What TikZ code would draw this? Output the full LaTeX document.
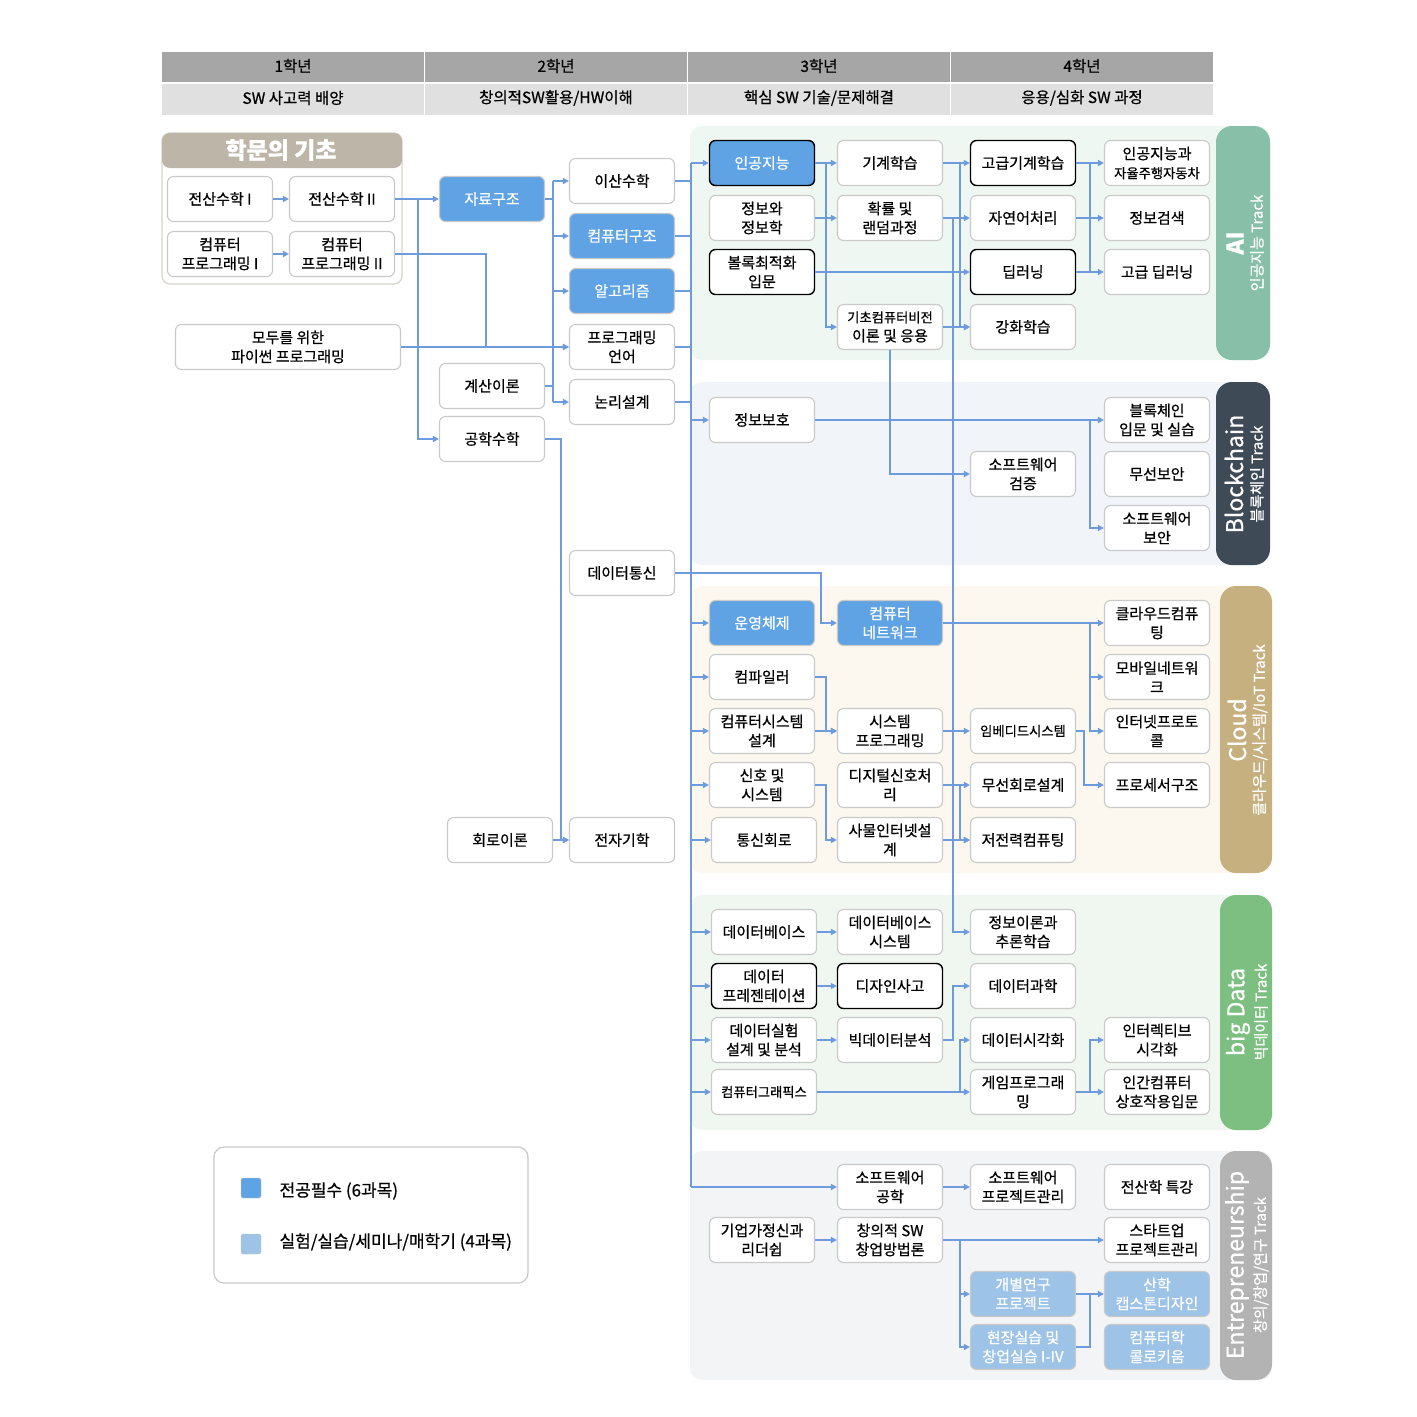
\documentclass[tikz,border=0pt]{standalone}
\usepackage{fontspec}
\setmainfont{Noto Sans CJK KR}[FakeBold=0.6]
\usetikzlibrary{arrows.meta}
\definecolor{linkblue}{HTML}{6E9BDB}
\definecolor{majorblue}{HTML}{5FA3E4}
\definecolor{labblue}{HTML}{9DC3E6}
\definecolor{boxgray}{HTML}{C9C9C9}
\definecolor{headdark}{HTML}{A6A6A6}
\definecolor{headlight}{HTML}{E0E0E0}
\definecolor{basetan}{HTML}{BDB5A7}
\definecolor{aibg}{HTML}{EFF7F3}
\definecolor{aibar}{HTML}{88BFA9}
\definecolor{bcbg}{HTML}{F1F4F8}
\definecolor{bcbar}{HTML}{3F4A57}
\definecolor{cloudbg}{HTML}{FCF8EF}
\definecolor{cloudbar}{HTML}{C7B07F}
\definecolor{bdbg}{HTML}{F0F7F1}
\definecolor{bdbar}{HTML}{7CBF80}
\definecolor{enbg}{HTML}{F3F4F5}
\definecolor{enbar}{HTML}{B3B3B3}
\newcommand{\boxw}{105pt}
\newcommand{\boxh}{45pt}

\begin{document}
\begin{tikzpicture}[x=1pt,y=-1pt,
  course/.style={draw=boxgray, line width=1.1pt, rounded corners=6pt, fill=white,
                 minimum width=\boxw, minimum height=\boxh, align=center, inner sep=1pt,
                 font=\fontsize{15}{19}\selectfont},
  major/.style={course, fill=majorblue, text=white},
  lab/.style={course, fill=labblue, text=white},
  core/.style={course, draw=black, line width=1.4pt},
  tight/.style={font=\fontsize{13.3}{18}\selectfont},
  bigtrack/.style={rotate=90, text=white, inner sep=0pt, font=\fontsize{23}{25}\selectfont},
  subtrack/.style={rotate=90, text=white, inner sep=0pt, font=\fontsize{15}{16}\selectfont},
  link/.style={draw=linkblue, line width=1.8pt},
  arr/.style={link, -{Triangle[length=6pt,width=6pt]}}
]
\useasboundingbox (0,0) rectangle (1417,1417);
\fill[white] (0,0) rectangle (1417,1417);

% year header
\foreach \yr/\goal [count=\c from 0] in {1학년/{SW 사고력 배양}, 2학년/{창의적SW활용/HW이해},
                                        3학년/{핵심 SW 기술/문제해결}, 4학년/{응용/심화 SW 과정}} {
  \fill[headdark] (162+263*\c,52) rectangle (424+263*\c,82);
  \fill[headlight] (162+263*\c,84) rectangle (424+263*\c,115);
  \node[font=\fontsize{15.5}{17}\selectfont] (yr\c) at (293+263*\c,66) {\yr};
  \node[font=\fontsize{15.5}{17}\selectfont] (goal\c) at (293+263*\c,98) {\goal};
}

% track bands
\fill[aibg, rounded corners=12pt] (690,126) rectangle (1270,360);
\fill[aibar, rounded corners=16pt] (1216,126) rectangle (1270,360);
\fill[bcbg, rounded corners=12pt] (690,382) rectangle (1270,565);
\fill[bcbar, rounded corners=16pt] (1216,382) rectangle (1270,565);
\fill[cloudbg, rounded corners=12pt] (690,586) rectangle (1272,873);
\fill[cloudbar, rounded corners=16pt] (1220,586) rectangle (1272,873);
\fill[bdbg, rounded corners=12pt] (690,895) rectangle (1272,1130);
\fill[bdbar, rounded corners=16pt] (1220,895) rectangle (1272,1130);
\fill[enbg, rounded corners=12pt] (690,1151) rectangle (1272,1380);
\fill[enbar, rounded corners=16pt] (1220,1151) rectangle (1272,1380);

\node[bigtrack, font=\bfseries\fontsize{23}{25}\selectfont] (tAI) at (1235,243) {AI};
\node[subtrack] (tAIs) at (1257,243) {인공지능 Track};
\node[bigtrack] (tBC) at (1234,474) {Blockchain};
\node[subtrack] (tBCs) at (1257,474) {블록체인 Track};
\node[bigtrack] (tCL) at (1237,730) {Cloud};
\node[subtrack] (tCLs) at (1260,730) {클라우드/시스템/IoT Track};
\node[bigtrack] (tBD) at (1238,1012) {big Data};
\node[subtrack] (tBDs) at (1261,1012) {빅데이터 Track};
\node[bigtrack] (tEN) at (1237,1265) {Entrepreneurship};
\node[subtrack] (tENs) at (1261,1265) {창의/창업/연구 Track};

% basics panel
\draw[draw=basetan!60, line width=1.2pt, rounded corners=8pt, fill=white] (162,133) rectangle (402,284);
\fill[basetan, rounded corners=8pt] (162,133) rectangle (402,168);
\node[font=\bfseries\fontsize{23}{25}\selectfont, text=white] (basics) at (281,150) {학문의 기초};

\node[course] (sm1) at (220,199) {전산수학 I};
\node[course] (sm2) at (342,199) {전산수학 II};
\node[course] (cp1) at (220,254) {컴퓨터\\프로그래밍 I};
\node[course] (cp2) at (342,254) {컴퓨터\\프로그래밍 II};
\node[course, minimum width=225pt] (py) at (288,347) {모두를 위한\\파이썬 프로그래밍};

% 2nd year
\node[major] (ds) at (492,199) {자료구조};
\node[course] (toc) at (492,386) {계산이론};
\node[course] (em) at (492,439) {공학수학};
\node[course] (ct) at (500,840) {회로이론};
\node[course] (dm) at (622,181) {이산수학};
\node[major] (ca) at (622,236) {컴퓨터구조};
\node[major] (alg) at (622,291) {알고리즘};
\node[course] (pl) at (622,347) {프로그래밍\\언어};
\node[course] (ld) at (622,402) {논리설계};
\node[course] (dc) at (622,573) {데이터통신};
\node[course] (emg) at (622,840) {전자기학};

% AI track
\node[major, draw=black, line width=1.4pt] (ai) at (762,163) {인공지능};
\node[course] (info) at (762,218) {정보와\\정보학};
\node[core] (cvx) at (762,272) {볼록최적화\\입문};
\node[course] (ml) at (890,163) {기계학습};
\node[course] (prob) at (890,218) {확률 및\\랜덤과정};
\node[course] (cv) at (890,327) {{\fontsize{13.3}{17}\selectfont 기초컴퓨터비전}\\이론 및 응용};
\node[core] (aml) at (1023,163) {고급기계학습};
\node[course] (nlp) at (1023,218) {자연어처리};
\node[core] (dl) at (1023,272) {딥러닝};
\node[course] (rl) at (1023,327) {강화학습};
\node[course] (aiad) at (1157,163) {인공지능과\\{\fontsize{13.3}{17}\selectfont 자율주행자동차}};
\node[course] (ir) at (1157,218) {정보검색};
\node[course] (adl) at (1157,272) {고급 딥러닝};

% Blockchain track
\node[course] (sec) at (762,420) {정보보호};
\node[course] (swv) at (1023,474) {소프트웨어\\검증};
\node[course] (bc) at (1157,420) {블록체인\\입문 및 실습};
\node[course] (ws) at (1157,474) {무선보안};
\node[course] (sws) at (1157,528) {소프트웨어\\보안};

% Cloud track
\node[major] (os) at (762,623) {운영체제};
\node[course] (comp) at (762,677) {컴파일러};
\node[course] (csd) at (762,731) {컴퓨터시스템\\설계};
\node[course] (sig) at (762,785) {신호 및\\시스템};
\node[course] (cc) at (764,840) {통신회로};
\node[major] (net) at (890,623) {컴퓨터\\네트워크};
\node[course] (sp) at (890,731) {시스템\\프로그래밍};
\node[course] (dsp) at (890,785) {디지털신호처\\리};
\node[course] (iot) at (890,840) {사물인터넷설\\계};
\node[course, tight] (emb) at (1023,731) {임베디드시스템};
\node[course] (rf) at (1023,785) {무선회로설계};
\node[course] (lp) at (1023,840) {저전력컴퓨팅};
\node[course] (cloud) at (1157,623) {클라우드컴퓨\\팅};
\node[course] (mob) at (1157,677) {모바일네트워\\크};
\node[course] (inet) at (1157,731) {인터넷프로토\\콜};
\node[course] (proc) at (1157,785) {프로세서구조};

% big Data track
\node[course] (db) at (764,932) {데이터베이스};
\node[core] (dp) at (764,986) {데이터\\프레젠테이션};
\node[course] (dx) at (764,1040) {데이터실험\\설계 및 분석};
\node[course, tight] (cg) at (764,1092) {컴퓨터그래픽스};
\node[course] (dbs) at (890,932) {데이터베이스\\시스템};
\node[core] (dt) at (890,986) {디자인사고};
\node[course] (bda) at (890,1040) {빅데이터분석};
\node[course] (itl) at (1023,932) {정보이론과\\추론학습};
\node[course] (dsc) at (1023,986) {데이터과학};
\node[course] (dv) at (1023,1040) {데이터시각화};
\node[course] (gp) at (1023,1092) {게임프로그래\\밍};
\node[course] (iv) at (1157,1040) {인터렉티브\\시각화};
\node[course] (hci) at (1157,1092) {인간컴퓨터\\상호작용입문};

% Entrepreneurship track
\node[course] (se) at (890,1187) {소프트웨어\\공학};
\node[course] (spm) at (1023,1187) {소프트웨어\\프로젝트관리};
\node[course] (cst) at (1157,1187) {전산학 특강};
\node[course] (ent) at (762,1240) {기업가정신과\\리더쉽};
\node[course] (cse) at (890,1240) {창의적 SW\\창업방법론};
\node[course] (sup) at (1157,1240) {스타트업\\프로젝트관리};
\node[lab] (irp) at (1023,1294) {개별연구\\프로젝트};
\node[lab] (fp) at (1023,1347) {현장실습 및\\창업실습 I-IV};
\node[lab] (cap) at (1157,1294) {산학\\캡스톤디자인};
\node[lab] (coll) at (1157,1347) {컴퓨터학\\콜로키움};

% legend
\draw[draw=boxgray, line width=1.2pt, rounded corners=10pt] (214,1147) rectangle (528,1283);
\node[draw=boxgray, fill=majorblue, minimum size=20pt, inner sep=0pt, rounded corners=2pt] (kmajor) at (251,1188) {};
\node[anchor=west, font=\fontsize{17}{19}\selectfont] (tmajor) at (276,1191) {전공필수 (6과목)};
\node[draw=boxgray, fill=labblue, minimum size=20pt, inner sep=0pt, rounded corners=2pt] (klab) at (251,1244) {};
\node[anchor=west, font=\fontsize{17}{19}\selectfont] (tlab) at (276,1242) {실험/실습/세미나/매학기 (4과목)};

% bus lines
\coordinate (cbus) at (553,0);
\coordinate (mbus) at (691,0);
\coordinate (dbus) at (826,0);
\coordinate (lbus) at (953,0);
\coordinate (efbus) at (960,0);
\coordinate (fgbus) at (1090,0);
\coordinate (jA) at (418,199);
\coordinate (jB) at (486,347);
\coordinate (ej) at (561,439);
\coordinate (nj) at (821,573);

% 1st year
\draw[arr] (sm1) -- (sm2);
\draw[arr] (cp1) -- (cp2);
\draw[arr] (sm2) -- (ds);
\draw[arr] (jA) |- (em);
\draw[link] (cp2.east) -| (jB);
\draw[arr] (py) -- (pl);

% 2nd year
\draw[link] (ds) -- (cbus |- ds);
\draw[link] (toc) -- (cbus |- toc);
\draw[link] (cbus |- dm) -- (cbus |- ld);
\foreach \n in {dm,ca,alg,pl,ld} \draw[arr] (cbus |- \n) -- (\n);
\draw[arr] (em.east) -- (ej) |- (emg);
\draw[arr] (ct) -- (emg);
\draw[arr] (dc.east) -- (nj) |- (net);

% main bus into the tracks
\foreach \n in {dm,ca,alg,pl,ld} \draw[link] (\n) -- (mbus |- \n);
\draw[link] (mbus |- ai) -- (mbus |- se);
\foreach \n in {ai,sec,os,comp,csd,sig,cc,db,dp,dx,cg} \draw[arr] (mbus |- \n) -- (\n);
\draw[arr] (mbus |- se) -- (se);

% AI
\draw[arr] (ai) -- (ml);
\draw[arr] (dbus |- ai) |- (cv);
\draw[arr] (info) -- (prob);
\draw[arr] (cvx) -- (dl);
\draw[arr] (ml) -- (aml);
\draw[arr] (efbus |- ml) |- (rl);
\draw[arr] (cv) -- (rl);
\draw[arr] (prob) -- (nlp);
\draw[arr] (lbus |- prob) |- (itl);
\draw[arr] (cv.south) |- (swv);
\draw[arr] (aml) -- (aiad);
\draw[arr] (nlp) -- (ir);
\draw[arr] (dl) -- (adl);
\draw[link] (fgbus |- aml) -- (fgbus |- dl);

% Blockchain
\draw[arr] (sec) -- (bc);
\draw[arr] (fgbus |- bc) |- (sws);

% Cloud
\draw[arr] (net) -- (cloud);
\draw[arr] (fgbus |- cloud) |- (mob);
\draw[arr] (fgbus |- cloud) |- (inet);
\draw[arr] (comp.east) -- (dbus |- comp) |- (sp);
\draw[arr] (csd) -- (sp);
\draw[arr] (sig.east) -- (dbus |- sig) |- (iot);
\draw[arr] (sp) -- (emb);
\draw[arr] (dsp) -- (rf);
\draw[arr] (efbus |- dsp) |- (lp);
\draw[arr] (iot) -- (lp);
\draw[arr] (emb.east) -- ++(8,0) |- (proc);

% big Data
\draw[arr] (db) -- (dbs);
\draw[arr] (dp) -- (dt);
\draw[arr] (dx) -- (bda);
\draw[arr] (bda.east) -- (lbus |- bda) |- (dsc);
\draw[arr] (cg) -- (gp);
\draw[arr] (efbus |- cg) |- (dv);
\draw[arr] (gp) -- (hci);
\draw[arr] (fgbus |- gp) |- (iv);

% Entrepreneurship
\draw[arr] (se) -- (spm);
\draw[arr] (ent) -- (cse);
\draw[arr] (cse) -- (sup);
\draw[arr] (efbus |- cse) |- (irp);
\draw[arr] (efbus |- cse) |- (fp);
\draw[arr] (irp) -- (cap);
\draw[link] (fp.east) -| (fgbus |- cap);
\end{tikzpicture}
\end{document}
